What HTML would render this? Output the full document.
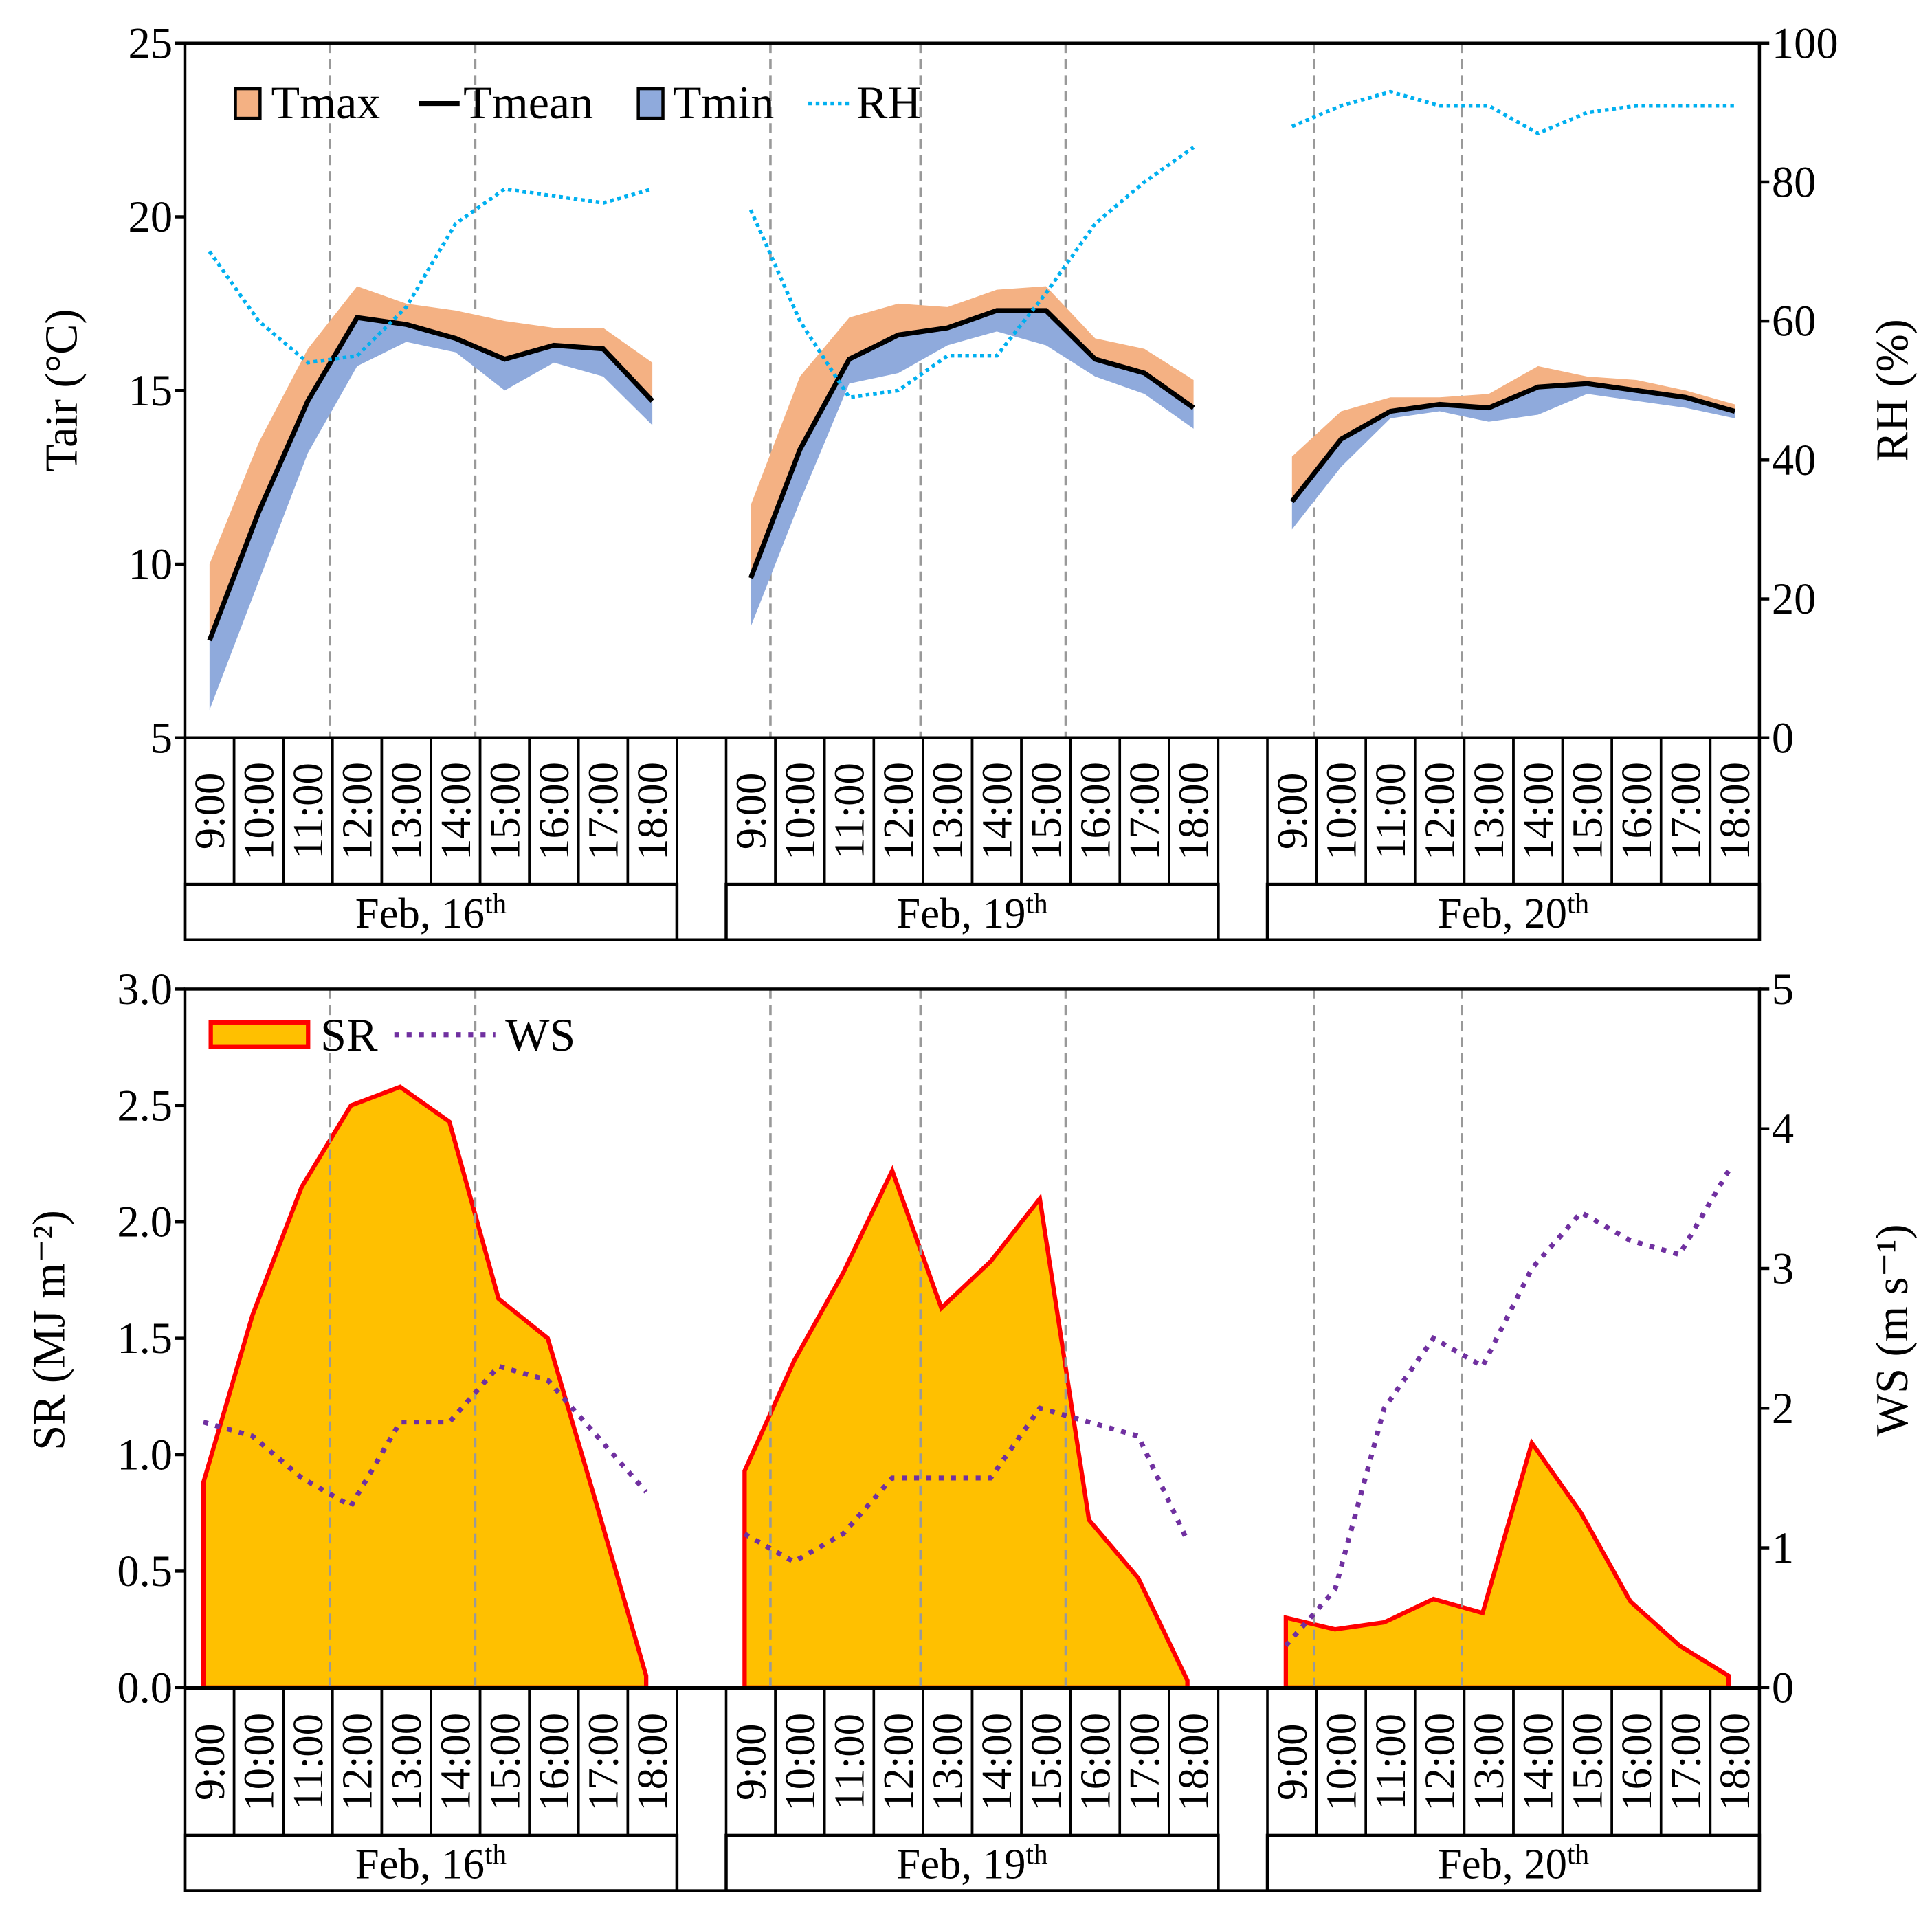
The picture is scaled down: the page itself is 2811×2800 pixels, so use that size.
<!DOCTYPE html>
<html><head><meta charset="utf-8"><style>
html,body{margin:0;padding:0;background:#fff;}
svg{display:block;font-family:"Liberation Serif",serif;}
</style></head><body>
<svg id="chart" width="2811" height="2800" viewBox="0 0 1568 1562" xmlns="http://www.w3.org/2000/svg"></svg>
<script>
const hours = ["9:00","10:00","11:00","12:00","13:00","14:00","15:00","16:00","17:00","18:00"];
const days = ["16","19","20"];
const tmean = [[7.8,11.5,14.7,17.1,16.9,16.5,15.9,16.3,16.2,14.7],[9.6,13.3,15.9,16.6,16.8,17.3,17.3,15.9,15.5,14.5],[11.8,13.6,14.4,14.6,14.5,15.1,15.2,15.0,14.8,14.4]];
const tmax = [[10.0,13.5,16.2,18.0,17.5,17.3,17.0,16.8,16.8,15.8],[11.7,15.4,17.1,17.5,17.4,17.9,18.0,16.5,16.2,15.3],[13.1,14.4,14.8,14.8,14.9,15.7,15.4,15.3,15.0,14.6]];
const tmin = [[5.8,9.5,13.2,15.7,16.4,16.1,15.0,15.8,15.4,14.0],[8.2,11.8,15.2,15.5,16.3,16.7,16.3,15.4,14.9,13.9],[11.0,12.8,14.2,14.4,14.1,14.3,14.9,14.7,14.5,14.2]];
const rh = [[70,60,54,55,62,74,79,78,77,79],[76,60,49,50,55,55,64,74,80,85],[88,91,93,91,91,87,90,91,91,91]];
const sr = [[0.88,1.6,2.15,2.5,2.58,2.43,1.67,1.5,0.78,0.05],[0.93,1.4,1.78,2.22,1.63,1.83,2.1,0.72,0.47,0.03],[0.3,0.25,0.28,0.38,0.32,1.05,0.75,0.37,0.18,0.05]];
const ws = [[1.9,1.8,1.5,1.3,1.9,1.9,2.3,2.2,1.8,1.4],[1.1,0.9,1.1,1.5,1.5,1.5,2.0,1.9,1.8,1.05],[0.3,0.7,2.0,2.5,2.3,3.0,3.4,3.2,3.1,3.7]];
const dashTop = [2.45,5.4,11.4,14.45,17.4,22.45,25.45];
const tairTicks = [5,10,15,20,25];
const rhTicks = [0,20,40,60,80,100];
const srTicks = [0.0,0.5,1.0,1.5,2.0,2.5,3.0];
const wsTicks = [0,1,2,3,4,5];

const svg = document.getElementById('chart');
const NS = 'http://www.w3.org/2000/svg';
function mk(tag, attrs, parent, text){
  const e = document.createElementNS(NS, tag);
  for (const k in attrs) e.setAttribute(k, attrs[k]);
  if (text !== undefined) e.textContent = text;
  (parent||svg).appendChild(e);
  return e;
}
const X0 = 150, X1 = 1428, NC = 32, CW = (X1-X0)/NC;
function xc(g,i){ return X0 + (g*11 + i + 0.5)*CW; }
function xb(k){ return X0 + k*CW; }

function panel(top, bot, lmin, lmax, rmax){
  const yl = v => bot - (v-lmin)/(lmax-lmin)*(bot-top);
  const yr = v => bot - v/rmax*(bot-top);
  return {yl, yr};
}
function drawFrame(top, bot, name){
  const r = mk('rect',{x:X0,y:top,width:X1-X0,height:bot-top,fill:'none',stroke:'#000','stroke-width':2.5});
  
  
}
function dashes(top, bot, name){
  dashTop.forEach(k=>{
    const l = mk('line',{x1:xb(k+0.5),y1:top,x2:xb(k+0.5),y2:bot,stroke:'#999','stroke-width':2,'stroke-dasharray':'8,5'});
    
    
  });
}
function table(top, name){
  const h1 = 119, h2 = 45;
  for (let g=0; g<3; g++){
    for (let i=0;i<10;i++){
      const k = g*11+i;
      const c = mk('rect',{x:xb(k),y:top,width:CW,height:h1,fill:'none',stroke:'#000','stroke-width':2});
      
      
      const cx = xc(g,i), cy = top + h1/2;
      const t = mk('text',{x:cx,y:cy,transform:`rotate(-90 ${cx} ${cy})`,'text-anchor':'middle','dominant-baseline':'central','font-size':35},null,hours[i]);
      
      
    }
    const d = mk('rect',{x:xb(g*11),y:top+h1,width:CW*10,height:h2,fill:'none',stroke:'#000','stroke-width':2.5});
    
    
    const t = mk('text',{x:xb(g*11)+CW*5,y:top+h1+35,'text-anchor':'middle','font-size':35});
    
    
    t.appendChild(document.createTextNode('Feb, '+days[g]));
    mk('tspan',{'font-size':23,dy:-12},t,'th');
  }
  const o = mk('rect',{x:X0,y:top,width:X1-X0,height:h1+h2,fill:'none',stroke:'#000','stroke-width':2.5});
  
  
}
function ticks(arr, yf, side, fmt, name){
  arr.forEach(v=>{
    const y = yf(v);
    const x = side==='l' ? X0-8 : X1;
    mk('line',{x1:x,y1:y,x2:x+8,y2:y,stroke:'#000','stroke-width':2.5});
    const t = mk('text',{x: side==='l'? X0-10 : X1+10, y:y+12,'text-anchor': side==='l'?'end':'start','font-size':36},null,fmt(v));
    
    
  });
}
function path(pts){ return 'M'+pts.map(p=>p[0].toFixed(1)+','+p[1].toFixed(1)).join('L'); }

// ---- TOP PANEL ----
const T = panel(35, 599, 5, 25, 100);
dashes(35, 599, 'top');
for (let g=0; g<3; g++){
  const up = tmax[g].map((v,i)=>[xc(g,i),T.yl(v)]);
  const mid = tmean[g].map((v,i)=>[xc(g,i),T.yl(v)]);
  const lo = tmin[g].map((v,i)=>[xc(g,i),T.yl(v)]);
  const a = mk('path',{d:path(up.concat(mid.slice().reverse()))+'Z',fill:'#f4b183'});
  
  
  const b = mk('path',{d:path(mid.concat(lo.slice().reverse()))+'Z',fill:'#8faadc'});
  
  
  const l = mk('path',{d:path(mid),fill:'none',stroke:'#000','stroke-width':4});
  
  
  const r = mk('path',{d:path(rh[g].map((v,i)=>[xc(g,i),T.yr(v)])),fill:'none',stroke:'#00b0f0','stroke-width':3,'stroke-dasharray':'3,3'});
  
  
}
drawFrame(35,599,'top');
ticks(tairTicks,T.yl,'l',v=>String(v),'tair');
ticks(rhTicks,T.yr,'r',v=>String(v),'rh');
table(599,'top');
let t;
t = mk('text',{x:62,y:317,transform:'rotate(-90 62 317)','text-anchor':'middle','font-size':37},null,'Tair (°C)');
 
t = mk('text',{x:1548,y:317,transform:'rotate(-90 1548 317)','text-anchor':'middle','font-size':37},null,'RH (%)');
 
const lg = mk('g',{});
 
mk('rect',{x:191,y:72,width:20,height:24,fill:'#f4b183',stroke:'#000','stroke-width':2.5},lg);
mk('text',{x:220,y:96,'font-size':38},lg,'Tmax');
mk('line',{x1:340,y1:84,x2:373,y2:84,stroke:'#000','stroke-width':4},lg);
mk('text',{x:376,y:96,'font-size':38},lg,'Tmean');
mk('rect',{x:518,y:72,width:20,height:24,fill:'#8faadc',stroke:'#000','stroke-width':2.5},lg);
mk('text',{x:546,y:96,'font-size':38},lg,'Tmin');
mk('line',{x1:656,y1:84,x2:692,y2:84,stroke:'#00b0f0','stroke-width':3,'stroke-dasharray':'3,3'},lg);
mk('text',{x:695,y:96,'font-size':38},lg,'RH');

// ---- BOTTOM PANEL ----
const B = panel(803, 1370, 0, 3, 5);
for (let g=0; g<3; g++){
  const pts = sr[g].map((v,i)=>[xc(g,i)-5,B.yl(v)]);
  const area = [[pts[0][0],1370]].concat(pts).concat([[pts[pts.length-1][0],1370]]);
  const a = mk('path',{d:path(area)+'Z',fill:'#ffc000',stroke:'#ff0000','stroke-width':3.5});
  
  
}
dashes(803,1370,'bottom');
for (let g=0; g<3; g++){
  const w = mk('path',{d:path(ws[g].map((v,i)=>[xc(g,i)-5,B.yr(v)])),fill:'none',stroke:'#7030a0','stroke-width':4,'stroke-dasharray':'4,6'});
  
  
}
drawFrame(803,1370,'bottom');
ticks(srTicks,B.yl,'l',v=>v.toFixed(1),'sr');
ticks(wsTicks,B.yr,'r',v=>String(v),'ws');
table(1371,'bottom');
t = mk('text',{x:52,y:1080,transform:'rotate(-90 52 1080)','text-anchor':'middle','font-size':37},null,'SR (MJ m\u207B\u00B2)');
 
t = mk('text',{x:1548,y:1080,transform:'rotate(-90 1548 1080)','text-anchor':'middle','font-size':37},null,'WS (m s\u207B\u00B9)');
 
const lg2 = mk('g',{});
 
mk('rect',{x:171,y:830,width:79,height:20,fill:'#ffc000',stroke:'#ff0000','stroke-width':3.5},lg2);
mk('text',{x:260,y:853,'font-size':38},lg2,'SR');
mk('line',{x1:320,y1:840,x2:402,y2:840,stroke:'#7030a0','stroke-width':4,'stroke-dasharray':'4,6'},lg2);
mk('text',{x:410,y:853,'font-size':38},lg2,'WS');
</script>
</body></html>
